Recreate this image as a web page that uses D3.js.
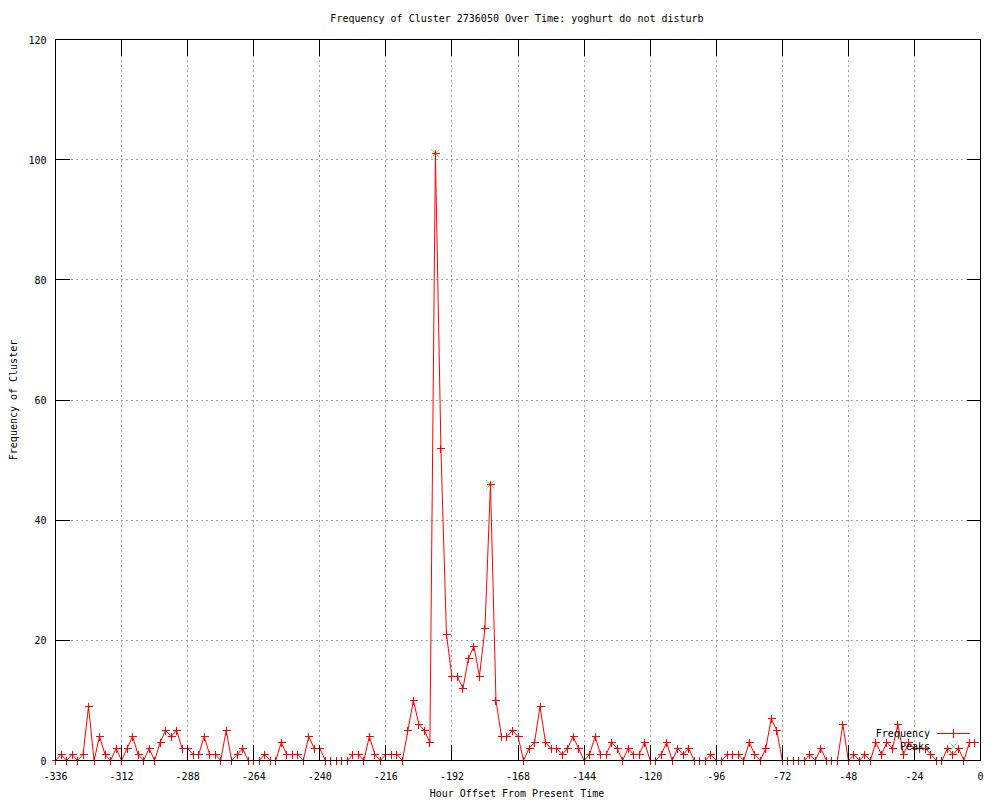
<!DOCTYPE html>
<html>
<head>
<meta charset="utf-8">
<script src="https://cdn.jsdelivr.net/npm/d3@7"></script>
<style>
  body { margin: 0; background: #fff; }
  text { font-family: "DejaVu Sans Mono", monospace; font-size: 10px; fill: #000; }
</style>
</head>
<body>
<svg id="chart" width="1000" height="800"></svg>
<script>
/*** DATA ***/
var hours = d3.range(-336, 0, 2);   // sampling every 2 hours, -336 .. -2
var freq = [
  0, 1, 0, 1, 0, 1, 9, 0, 4, 1, 0, 2, 0, 2, 4, 1, 0, 2, 0, 3,
  5, 4, 5, 2, 2, 1, 1, 4, 1, 1, 0, 5, 0, 1, 2, 0, 0, 0, 1, 0,
  0, 3, 1, 1, 1, 0, 4, 2, 2, 0, 0, 0, 0, 0, 1, 1, 0, 4, 1, 0,
  1, 1, 1, 0, 5, 10, 6, 5, 3, 101, 52, 21, 14, 14, 12, 17, 19, 14, 22, 46,
  10, 4, 4, 5, 4, 0, 2, 3, 9, 3, 2, 2, 1, 2, 4, 2, 0, 1, 4, 1,
  1, 3, 2, 0, 2, 1, 1, 3, 0, 0, 1, 3, 0, 2, 1, 2, 0, 0, 0, 1,
  0, 0, 1, 1, 1, 0, 3, 1, 0, 2, 7, 5, 0, 0, 0, 0, 0, 1, 0, 2,
  0, 0, 0, 6, 0, 1, 0, 1, 0, 3, 1, 3, 2, 6, 1, 3, 2, 2, 2, 1,
  0, 0, 2, 1, 2, 0, 3, 3
];
var peak_hours = [-198, -178];
var peak_values = [101, 46];
var x_ticks = [-336, -312, -288, -264, -240, -216, -192, -168, -144, -120, -96, -72, -48, -24, 0];
var y_ticks = [0, 20, 40, 60, 80, 100, 120];

var title_text = "Frequency of Cluster 2736050 Over Time: yoghurt do not disturb";
var x_label = "Hour Offset From Present Time";
var y_label = "Frequency of Cluster";

/*** LAYOUT ***/
var svg = d3.select('#chart');
var margin = {top: 39, right: 20, bottom: 40, left: 55},
    width  = 980 - margin.left,
    height = 760 - margin.top;

var x = d3.scaleLinear().domain([-336, 0]).range([0, width]);
var y = d3.scaleLinear().domain([0, 120]).range([height, 0]);

var g = svg.append('g').attr('transform', `translate(${margin.left + 0.5}, ${margin.top + 0.5})`);

// grid
g.selectAll('.xgrid').data(x_ticks.slice(1, -1)).enter().append('line')
    .attr('x1', d => Math.round(x(d))).attr('x2', d => Math.round(x(d)))
    .attr('y1', 0).attr('y2', height)
    .style('stroke', '#a0a0a0').style('stroke-dasharray', '2,3')
    .style('shape-rendering', 'crispEdges');
g.selectAll('.ygrid').data(y_ticks.slice(1, -1)).enter().append('line')
    .attr('x1', 0).attr('x2', width)
    .attr('y1', d => Math.round(y(d))).attr('y2', d => Math.round(y(d)))
    .style('stroke', '#a0a0a0').style('stroke-dasharray', '2,3')
    .style('shape-rendering', 'crispEdges');

// frequency line
var line = d3.line().x((d, i) => x(hours[i])).y(d => y(d));
g.append('path').datum(freq)
    .attr('d', line)
    .style('fill', 'none').style('stroke', '#ff0000').style('stroke-width', 1);

// peaks (green x)
var peak_g = g.selectAll('.peak').data(peak_values).enter().append('g')
    .attr('transform', (d, i) => `translate(${Math.round(x(peak_hours[i]))}, ${Math.round(y(d))})`);
peak_g.append('path').attr('d', 'M-4,-4L4,4M-4,4L4,-4')
    .style('fill', 'none').style('stroke', '#00c000').style('stroke-dasharray', '1,1');

// frequency points (+)
g.selectAll('.pt').data(freq).enter().append('path')
    .attr('d', (d, i) => `M${Math.round(x(hours[i])) - 4},${Math.round(y(d))}h8M${Math.round(x(hours[i]))},${Math.round(y(d)) - 4}v8`)
    .style('fill', 'none').style('stroke', '#ff0000').style('stroke-width', 1)
    .style('shape-rendering', 'crispEdges');

// ticks (inside, mirrored)
x_ticks.forEach(function(t) {
    var xp = Math.round(x(t));
    g.append('line').attr('x1', xp).attr('x2', xp).attr('y1', height).attr('y2', height - 16)
        .style('stroke', '#000').style('shape-rendering', 'crispEdges');
    g.append('line').attr('x1', xp).attr('x2', xp).attr('y1', 0).attr('y2', 16)
        .style('stroke', '#000').style('shape-rendering', 'crispEdges');
    g.append('text').attr('x', x(t)).attr('y', height + 19).attr('text-anchor', 'middle').text(t);
});
y_ticks.forEach(function(t) {
    var yp = Math.round(y(t));
    g.append('line').attr('x1', 0).attr('x2', 14).attr('y1', yp).attr('y2', yp)
        .style('stroke', '#000').style('shape-rendering', 'crispEdges');
    g.append('line').attr('x1', width).attr('x2', width - 14).attr('y1', yp).attr('y2', yp)
        .style('stroke', '#000').style('shape-rendering', 'crispEdges');
    g.append('text').attr('x', -9).attr('y', y(t) + 4).attr('text-anchor', 'end').text(t);
});

// border
g.append('rect').attr('x', 0).attr('y', 0).attr('width', width).attr('height', height)
    .style('fill', 'none').style('stroke', '#000').style('shape-rendering', 'crispEdges');

// legend
var lx = 930;
svg.append('text').attr('x', lx).attr('y', 737).attr('text-anchor', 'end').text('Frequency');
svg.append('path').attr('d', 'M937,733.5H970M949,733.5h8M953.5,729v9')
    .style('fill', 'none').style('stroke', '#ff0000').style('shape-rendering', 'crispEdges');
svg.append('text').attr('x', lx).attr('y', 750).attr('text-anchor', 'end').text('Peaks');
svg.append('path').attr('d', 'M949.5,742.5L957.5,750.5M949.5,750.5L957.5,742.5')
    .style('fill', 'none').style('stroke', '#00c000').style('stroke-dasharray', '1,1');

// titles
svg.append('text').attr('x', 517).attr('y', 22).attr('text-anchor', 'middle').text(title_text);
svg.append('text').attr('x', 517).attr('y', 797).attr('text-anchor', 'middle').text(x_label);
svg.append('text').attr('transform', 'translate(17, 400) rotate(-90)').attr('text-anchor', 'middle').text(y_label);
</script>
</body>
</html>
